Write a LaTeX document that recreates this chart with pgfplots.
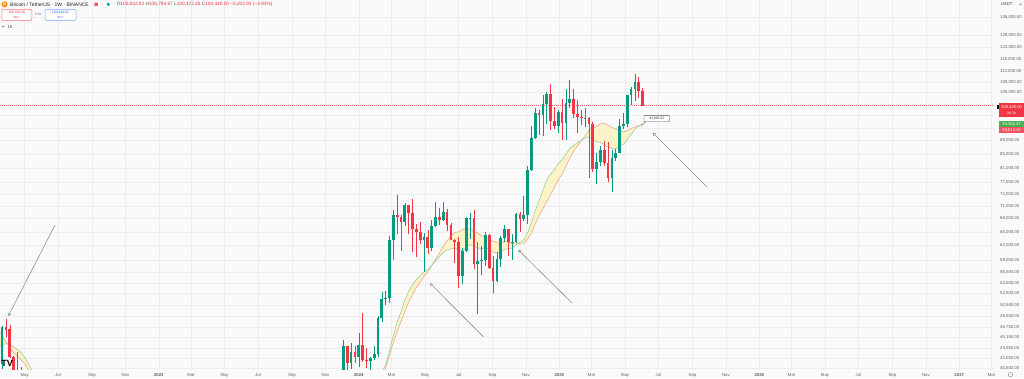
\documentclass[border=0pt]{standalone}
\usepackage{fontspec}
\setmainfont{Liberation Sans}
\usepackage{pgfplots}
\pgfplotsset{compat=1.18}
\usepackage{pgfplotstable}
\usetikzlibrary{arrows.meta}

\definecolor{tvgreen}{RGB}{8,153,129}
\definecolor{tvred}{RGB}{242,54,69}
\definecolor{bgc}{RGB}{250,250,250}
\definecolor{gridc}{RGB}{237,237,237}
\definecolor{smac}{RGB}{242,160,140}
\definecolor{emac}{RGB}{150,205,150}
\definecolor{bandc}{RGB}{255,241,184}
\definecolor{labc}{RGB}{95,95,95}
\definecolor{arrc}{RGB}{145,145,145}
\definecolor{tvblue}{RGB}{41,98,255}
\definecolor{btc}{RGB}{247,147,26}
\definecolor{boxgreen}{RGB}{76,175,80}

\newcommand\fs[1]{\fontsize{#1}{#1}\selectfont}

% weekly candles, w = weeks from 1 Jan 2024
\pgfplotstableread{
w o h l c
-94 37780 42330 37600 41280
-93 41260 47000 40470 46820
-5 37450 40250 37170 39970
-4 39970 44700 39970 43790
-2 41370 44300 40530 43010
0 42280 45880 40750 43950
3 41580 42250 38550 42030
4 42030 43880 41800 42580
5 42580 48590 42250 48300
6 48300 52820 47700 51570
7 51570 52990 50520 51730
8 51730 64000 50900 63110
9 63110 70000 59000 68960
12 67210 71770 66390 71280
17 63120 64740 56550 63900
19 61480 67700 60750 66270
20 66270 71980 66060 68510
22 67770 71950 67500 69650
27 55850 61420 54260 60800
28 60800 68370 60630 68160
29 68160 69400 63450 68250
31 58120 62750 49000 58720
32 58720 61800 56080 58900
33 58900 65000 57800 64230
36 54870 60670 54580 59120
37 59120 64130 57500 63580
38 63580 66500 62680 65600
40 62840 64470 58900 62850
41 62850 69400 62450 69030
43 67930 73620 67480 68770
44 68770 81500 66840 80370
45 80370 93480 80220 89850
46 89850 99590 89380 97900
48 97270 104090 90500 101110
49 101110 105250 94150 104460
52 93720 99000 91530 98360
54 94520 106420 89150 101330
55 101330 109590 99550 102620
59 96120 99500 93400 96250
62 80730 85300 76600 82580
63 82580 87450 81500 86080
66 78350 86100 74500 83760
67 83760 86500 83000 85180
68 85180 95750 85150 93750
69 93750 97900 92800 94280
70 94280 104300 93380 104120
71 104120 107100 100720 106450
72 106450 111980 102000 109000
}\greentab

\pgfplotstableread{
w o h l c
-92 46820 48190 45200 46410
-91 46410 47200 42110 42160
-90 42160 42420 39200 40380
-89 40380 42980 38540 39450
-88 39450 40800 37580 38470
-87 38470 40000 33700 34060
-3 43790 43810 40220 41370
-1 43010 43800 41300 42280
1 43950 49050 41500 41730
2 41730 43580 40680 41580
10 68960 73780 64530 68390
11 68390 68920 60760 67210
13 71280 71370 64490 69360
14 69360 72800 60660 65660
15 65660 66870 59600 64940
16 64940 67230 62390 63120
18 63900 65500 60190 61480
21 68510 70600 66600 67770
23 69650 70200 65080 66650
24 66650 66990 63200 63210
25 63210 63400 58400 62680
26 62680 63850 53480 55850
30 68250 70080 57120 58120
34 64230 64500 57200 57300
35 57300 59800 52550 54870
39 65600 65620 59830 62840
42 69030 69520 65060 67930
47 97900 98870 90790 97270
50 104460 108350 92230 95190
51 95190 99960 92500 93720
53 98360 102720 89250 94520
56 102620 106460 96150 97700
57 97700 102500 91230 96460
58 96460 99000 94090 96120
60 96250 96500 78260 94270
61 94270 95000 80000 80730
64 86080 88750 81600 82330
65 82330 88500 77100 78350
73 109000 110720 103100 105643
74 105643 106795 100372 100440
}\redtab

% 20W SMA and 21W EMA (bull market support band)
\pgfplotstableread{
w v
-95 47366
-94 46365
-93 45458
-92 44504
-91 43627
-90 42782
-89 42285
-88 41789
-87 41158
-86 40183
-85 39290
}\smaleft
\pgfplotstableread{
w v
-95 43961
-94 43717
-93 43999
-92 44218
-91 44031
-90 43699
-89 43313
-88 42873
-87 42072
-86 41093
-85 40033
}\emaleft

\pgfplotstableread{
w v
4 37152
5 38238
6 39417
7 40607
8 42420
9 44369
10 46062
11 47672
12 49383
13 50983
14 52393
15 53642
16 54608
17 55735
18 56658
19 57858
20 59086
21 60388
22 61791
23 63022
24 64054
25 64773
26 64987
27 65440
28 65693
29 65657
30 65144
31 64719
32 64100
33 63844
34 63426
35 62922
36 62722
37 62706
38 62912
39 62741
40 62458
41 62521
42 62435
43 62541
44 63399
45 64757
46 66860
47 68683
48 70331
49 72141
50 73995
51 75745
52 77718
53 79232
54 81434
55 83821
56 85750
57 87394
58 88920
59 90591
60 92162
61 92747
62 93479
63 94345
64 94443
65 93868
66 93161
67 92556
68 92188
69 91679
70 92126
71 92762
72 93294
73 93720
74 93613
}\smamain

\pgfplotstableread{
w v
4 37968
5 38907
6 40058
7 41119
8 43118
9 45467
10 47551
11 49338
12 51333
13 52972
14 54125
15 55108
16 55836
17 56569
18 57015
19 57856
20 58825
21 59638
22 60548
23 61103
24 61295
25 61421
26 60915
27 60905
28 61565
29 62173
30 61805
31 61525
32 61286
33 61554
34 61167
35 60595
36 60461
37 60745
38 61186
39 61336
40 61474
41 62161
42 62685
43 63238
44 64795
45 67073
46 69875
47 72365
48 74978
49 77658
50 79252
51 80567
52 82185
53 83306
54 84945
55 86552
56 87565
57 88374
58 89078
59 89730
60 90143
61 89287
62 88677
63 88441
64 87885
65 87018
66 86722
67 86582
68 87234
69 87875
70 89352
71 90906
72 92551
73 93741
74 94355
}\emamain

% band outline: SMA forward, then EMA backward
\pgfplotstableread{
w v
-95 47366
-94 46365
-93 45458
-92 44504
-91 43627
-90 42782
-89 42285
-88 41789
-87 41158
-86 40183
-85 39290
-85 40033
-86 41093
-87 42072
-88 42873
-89 43313
-90 43699
-91 44031
-92 44218
-93 43999
-94 43717
-95 43961
}\bandleft

\pgfplotstableread{
w v
4 37152
5 38238
6 39417
7 40607
8 42420
9 44369
10 46062
11 47672
12 49383
13 50983
14 52393
15 53642
16 54608
17 55735
18 56658
19 57858
20 59086
21 60388
22 61791
23 63022
24 64054
25 64773
26 64987
27 65440
28 65693
29 65657
30 65144
31 64719
32 64100
33 63844
34 63426
35 62922
36 62722
37 62706
38 62912
39 62741
40 62458
41 62521
42 62435
43 62541
44 63399
45 64757
46 66860
47 68683
48 70331
49 72141
50 73995
51 75745
52 77718
53 79232
54 81434
55 83821
56 85750
57 87394
58 88920
59 90591
60 92162
61 92747
62 93479
63 94345
64 94443
65 93868
66 93161
67 92556
68 92188
69 91679
70 92126
71 92762
72 93294
73 93720
74 93613
74 94355
73 93741
72 92551
71 90906
70 89352
69 87875
68 87234
67 86582
66 86722
65 87018
64 87885
63 88441
62 88677
61 89287
60 90143
59 89730
58 89078
57 88374
56 87565
55 86552
54 84945
53 83306
52 82185
51 80567
50 79252
49 77658
48 74978
47 72365
46 69875
45 67073
44 64795
43 63238
42 62685
41 62161
40 61474
39 61336
38 61186
37 60745
36 60461
35 60595
34 61167
33 61554
32 61286
31 61525
30 61805
29 62173
28 61565
27 60905
26 60915
25 61421
24 61295
23 61103
22 60548
21 59638
20 58825
19 57856
18 57015
17 56569
16 55836
15 55108
14 54125
13 52972
12 51333
11 49338
10 47551
9 45467
8 43118
7 41119
6 40058
5 38907
4 37968
}\bandmain

\begin{document}
\begin{tikzpicture}
\fill[bgc] (0pt,-8pt) rectangle (1024pt,370pt);
\begin{axis}[
  at={(0pt,0pt)}, anchor=south west,
  scale only axis, width=994pt, height=370pt,
  xmin=-93.56, xmax=165.63,
  ymode=log, ymin=40366, ymax=144576,
  axis background/.style={fill=bgc},
  axis line style={draw=none},
  major tick length=0pt,
  xtick={-87.14,-78.43,-69.57,-60.86,-52.14,-43.71,-35,-26.29,-17.43,-8.71,0,8.57,17.29,26,34.86,43.57,52.29,60.71,69.43,78.14,87,95.71,104.43,112.86,121.57,130.29,139.14,147.86,156.57,165},
  xticklabels={May,Jul,Sep,Nov,\textbf{2023},Mar,May,Jul,Sep,Nov,\textbf{2024},Mar,May,Jul,Sep,Nov,\textbf{2025},Mar,May,Jul,Sep,Nov,\textbf{2026},Mar,May,Jul,Sep,Nov,\textbf{2027},Mar},
  ytick={40600,42050,43550,45150,46750,48500,50500,52500,54500,56500,59000,62000,65000,68000,71000,74000,77000,81000,85000,89000,93000,97000,101000,105000,109000,113000,118000,123000,128000,136000},
  yticklabels={{40,600.00},{42,050.00},{43,550.00},{45,150.00},{46,750.00},{48,500.00},{50,500.00},{52,500.00},{54,500.00},{56,500.00},{59,000.00},{62,000.00},{65,000.00},{68,000.00},{71,000.00},{74,000.00},{77,000.00},{81,000.00},{85,000.00},{89,000.00},{},{97,000.00},{},{105,000.00},{109,000.00},{113,000.00},{118,000.00},{123,000.00},{128,000.00},{136,000.00}},
  yticklabel pos=right,
  xmajorgrids, ymajorgrids,
  major grid style={draw=gridc, line width=0.6pt},
  tick label style={font=\fs{4.3}, text=labc},
  yticklabel style={anchor=west, xshift=2.6pt},
  xticklabel style={yshift=0pt},
]
% support band fill
\addplot[fill=bandc, fill opacity=0.75, draw=none] table[x=w,y=v]{\bandleft} -- cycle;
\addplot[fill=bandc, fill opacity=0.75, draw=none] table[x=w,y=v]{\bandmain} -- cycle;
% support band lines
\addplot[draw=smac, line width=0.55pt] table[x=w,y=v]{\smaleft};
\addplot[draw=emac, line width=0.55pt] table[x=w,y=v]{\emaleft};
\addplot[draw=smac, line width=0.55pt] table[x=w,y=v]{\smamain};
\addplot[draw=emac, line width=0.55pt] table[x=w,y=v]{\emamain};
% current price line
\addplot[draw=tvred, line width=0.5pt, opacity=0.75, dash pattern=on 0.9pt off 1.1pt] coordinates {(-94,100440) (166,100440)};
% wicks
\addplot[draw=none, mark=none, forget plot,
  error bars/.cd, y dir=plus, y explicit, error mark=none,
  error bar style={draw=tvgreen, line width=0.55pt, solid}]
  table[x=w, y=l, y error expr=\thisrow{h}-\thisrow{l}] {\greentab};
\addplot[draw=none, mark=none, forget plot,
  error bars/.cd, y dir=plus, y explicit, error mark=none,
  error bar style={draw=tvred, line width=0.55pt, solid}]
  table[x=w, y=l, y error expr=\thisrow{h}-\thisrow{l}] {\redtab};
% bodies
\addplot[draw=none, mark=none, forget plot,
  error bars/.cd, y dir=plus, y explicit, error mark=none,
  error bar style={draw=tvgreen, line width=2.7pt, solid, line cap=butt}]
  table[x=w, y=o, y error expr=\thisrow{c}-\thisrow{o}+1] {\greentab};
\addplot[draw=none, mark=none, forget plot,
  error bars/.cd, y dir=plus, y explicit, error mark=none,
  error bar style={draw=tvred, line width=2.7pt, solid, line cap=butt}]
  table[x=w, y=c, y error expr=\thisrow{o}-\thisrow{c}+1] {\redtab};
\end{axis}

\begin{scope}[yshift=370pt, x=1pt, y=-1pt]
  % annotation arrows
  \begin{scope}[arrc, line width=0.6pt, -{Straight Barb[length=2.4pt,width=3.4pt]}]
    \draw (55,225) -- (8.3,316);
    \draw (483.3,336.7) -- (430,283.3);
    \draw (572,303) -- (518.3,250);
    \draw (706.7,186.7) -- (652.7,132.7);
  \end{scope}
  % callout
  \draw[black!60, line width=0.4pt] (646,121.7) -- (641.5,125.5);
  \draw[black!70, fill=white, rounded corners=0.8pt, line width=0.4pt] (644,115.4) rectangle (669.5,121.8);
  \node[inner sep=0, font=\fs{3.3}, text=black!85] at (656.8,118.6) {93,602.52};
  % header
  \fill[btc] (4.5,4.3) circle (3.1pt);
  \node[inner sep=0, font=\bfseries\fs{3.8}, text=white] at (4.5,4.4) {B};
  \node[anchor=west, inner sep=0, font=\fs{5}, text=black!85] at (10,4.4) {Bitcoin / TetherUS · 1W · BINANCE};
  \fill[tvred!85, rounded corners=0.5pt] (94.4,2.6) rectangle (97.8,6);
  \fill[tvgreen] (108.3,4.3) circle (1.7pt);
  \node[anchor=west, inner sep=0, font=\fs{4.75}] at (116.6,4.4) {{\color{black!65}O}{\color{tvred}105,642.93} {\color{black!65}H}{\color{tvred}106,794.67} {\color{black!65}L}{\color{tvred}100,372.26} {\color{black!65}C}{\color{tvred}100,440.00} {\color{tvred}−5,202.93 (−4.93\%)}};
  % sell / buy
  \draw[tvred!70, fill=white, rounded corners=1pt, line width=0.5pt] (1.8,9.5) rectangle (31.8,20.3);
  \node[inner sep=0, font=\fs{3.4}, text=tvred] at (16.8,12.7) {100,440.00};
  \node[inner sep=0, font=\fs{2.8}, text=tvred] at (16.8,17.6) {SELL};
  \node[inner sep=0, font=\fs{3.2}, text=black!60] at (38.2,14.8) {0.01};
  \draw[tvblue!60, fill=white, rounded corners=1pt, line width=0.5pt] (45,9.5) rectangle (76,20.3);
  \node[inner sep=0, font=\fs{3.4}, text=tvblue] at (60.5,12.7) {100,440.01};
  \node[inner sep=0, font=\fs{2.8}, text=tvblue] at (60.5,17.6) {BUY};
  \draw[black!65, line width=0.45pt] (2.1,25.9) -- (3.3,27.1) -- (4.5,25.9);
  \node[anchor=west, inner sep=0, font=\fs{4.2}, text=black!75] at (7.3,26.7) {15};
  % price scale header
  \node[anchor=west, inner sep=0, font=\fs{4.3}, text=black!75] at (1000.6,4.4) {USDT};
  \draw[black!60, line width=0.4pt] (1019.3,3.7) -- (1020.5,4.9) -- (1021.7,3.7);
  % price scale labels
  \fill[tvred] (999,103.3) rectangle (1024,116.6);
  \fill[black] (997.2,105.1) rectangle (999,108.6);
  \node[inner sep=0, font=\fs{4.1}, text=white] at (1011.6,107.1) {100,440.00};
  \node[inner sep=0, font=\fs{3.6}, text=white] at (1011.6,112.8) {3d 2h};
  \fill[boxgreen] (999,121.3) rectangle (1024,127.1);
  \node[inner sep=0, font=\fs{4.1}, text=white] at (1011.6,124.2) {94,355.47};
  \fill[tvred!85] (999,127.3) rectangle (1024,133.1);
  \node[inner sep=0, font=\fs{4.1}, text=white] at (1011.6,130.2) {93,613.12};
  % logo and settings
  \node[anchor=west, inner sep=0, font=\bfseries\fs{9}, text=black] at (1.3,363.6) {TV};
  \draw[black!45, line width=0.45pt] (1010.5,374.6) circle (2.2pt);
\end{scope}
\pgfresetboundingbox
\path[use as bounding box] (0pt,-8pt) rectangle (1024pt,370pt);
\end{tikzpicture}
\end{document}
